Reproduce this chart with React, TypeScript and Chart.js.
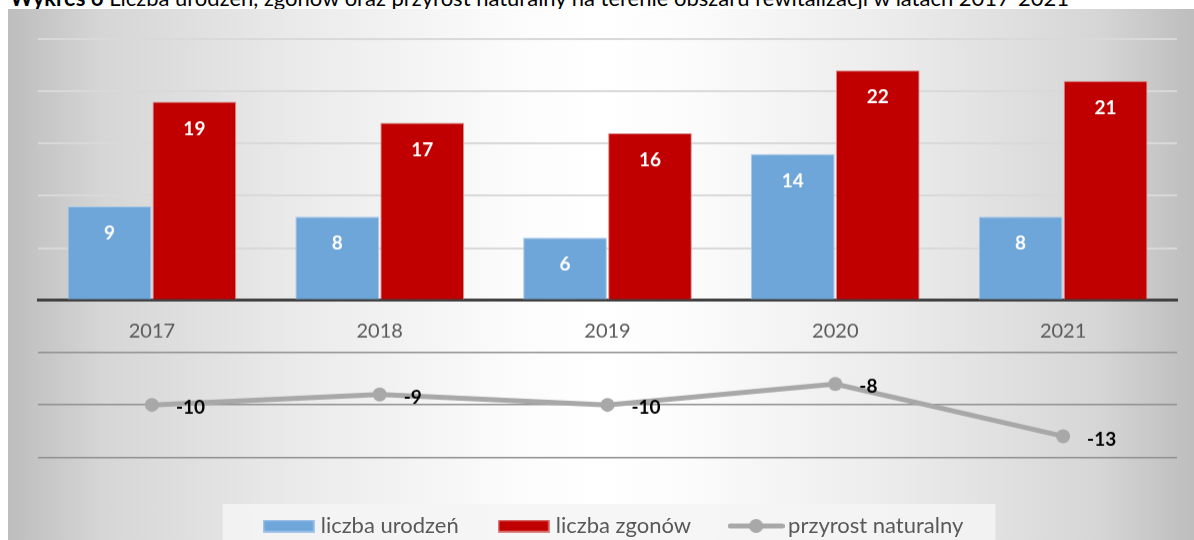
import React, { useEffect, useRef } from 'react';
import { Chart, registerables } from 'chart.js';

Chart.register(...registerables);

const years = ['2017', '2018', '2019', '2020', '2021'];
const births = [9, 8, 6, 14, 8];
const deaths = [19, 17, 16, 22, 21];
const naturalGrowth = [-10, -9, -10, -8, -13];
const seriesNames = ['liczba urodzeń', 'liczba zgonów', 'przyrost naturalny'];
const yMin = -15;
const yMax = 25;
const yStep = 5;
const titleBold = 'Wykres 6';
const titleText = ' Liczba urodzeń, zgonów oraz przyrost naturalny na terenie obszaru rewitalizacji w latach 2017-2021';

const BLUE = '#6fa6d9';
const BLUE_BORDER = '#a7c8ea';
const RED = '#c00000';
const RED_BORDER = '#de8a8a';
const GREY = '#a8a8a8';
const FONT = 'Lato, "Open Sans", sans-serif';

function makeIcon(kind: number): HTMLCanvasElement {
  const c = document.createElement('canvas');
  if (kind < 2) {
    c.width = 52;
    c.height = 13;
    const x = c.getContext('2d')!;
    x.fillStyle = kind === 0 ? BLUE : RED;
    x.fillRect(0, 0, 52, 13);
    x.strokeStyle = kind === 0 ? BLUE_BORDER : RED_BORDER;
    x.lineWidth = 1.5;
    x.strokeRect(0.75, 0.75, 50.5, 11.5);
  } else {
    c.width = 57;
    c.height = 16;
    const x = c.getContext('2d')!;
    x.strokeStyle = GREY;
    x.lineWidth = 5;
    x.lineCap = 'round';
    x.beginPath();
    x.moveTo(2.5, 8);
    x.lineTo(54.5, 8);
    x.stroke();
    x.fillStyle = GREY;
    x.beginPath();
    x.arc(28.5, 8, 7, 0, Math.PI * 2);
    x.fill();
  }
  return c;
}

const valueLabels = {
  id: 'valueLabels',
  afterDatasetsDraw(chart: any) {
    const ctx = chart.ctx;
    chart.data.datasets.forEach((ds: any, i: number) => {
      const meta = chart.getDatasetMeta(i);
      meta.data.forEach((el: any, j: number) => {
        const v = ds.data[j];
        ctx.save();
        ctx.font = `bold 19px ${FONT}`;
        ctx.textBaseline = 'middle';
        if (ds.type === 'line') {
          ctx.fillStyle = '#000000';
          ctx.textAlign = 'left';
          ctx.fillText(String(v), el.x + 24, el.y + 3);
        } else {
          ctx.fillStyle = '#ffffff';
          ctx.textAlign = 'center';
          ctx.fillText(String(v), el.x, el.y + 27);
        }
        ctx.restore();
      });
    });
  },
};

const legendBox = {
  id: 'legendBox',
  beforeDraw(chart: any) {
    const lg = chart.legend;
    if (!lg || !lg.legendHitBoxes || !lg.legendHitBoxes.length) return;
    const hb = lg.legendHitBoxes;
    const left = Math.min(...hb.map((h: any) => h.left));
    const right = Math.max(...hb.map((h: any) => h.left + h.width));
    const top = Math.min(...hb.map((h: any) => h.top));
    const ctx = chart.ctx;
    ctx.save();
    ctx.fillStyle = 'rgba(244,244,244,0.85)';
    ctx.fillRect(left - 45, top - 11, right - left + 77, chart.height);
    ctx.restore();
  },
};

export default function App() {
  const ref = useRef<HTMLCanvasElement>(null);

  useEffect(() => {
    if (!ref.current) return;
    const icons = [makeIcon(0), makeIcon(1), makeIcon(2)];
    const chart = new Chart(ref.current, {
      type: 'bar',
      data: {
        labels: years,
        datasets: [
          {
            type: 'bar',
            label: seriesNames[0],
            data: births,
            backgroundColor: BLUE,
            borderColor: BLUE_BORDER,
            borderWidth: 1,
            categoryPercentage: 0.746,
            barPercentage: 0.985,
          },
          {
            type: 'bar',
            label: seriesNames[1],
            data: deaths,
            backgroundColor: RED,
            borderColor: RED_BORDER,
            borderWidth: 1,
            categoryPercentage: 0.746,
            barPercentage: 0.985,
          },
          {
            type: 'line',
            label: seriesNames[2],
            data: naturalGrowth,
            borderColor: GREY,
            backgroundColor: GREY,
            borderWidth: 5,
            pointRadius: 7,
            pointBackgroundColor: GREY,
            pointBorderWidth: 0,
            tension: 0,
          } as any,
        ],
      },
      options: {
        animation: false,
        responsive: false,
        layout: { padding: { left: 30, right: 5, top: 30, bottom: 0 } },
        plugins: {
          tooltip: { enabled: false },
          legend: {
            position: 'bottom',
            title: { display: true, text: ' ', font: { size: 1 }, padding: { top: 12.5, bottom: 0 } },
            labels: {
              usePointStyle: true,
              pointStyleWidth: 42,
              boxHeight: 13,
              padding: 44,
              color: '#595959',
              font: { size: 22, family: FONT },
              generateLabels: () =>
                seriesNames.map((text, i) => ({
                  text,
                  pointStyle: icons[i],
                  fillStyle: 'transparent',
                  strokeStyle: 'transparent',
                  lineWidth: 0,
                  hidden: false,
                  datasetIndex: i,
                  fontColor: '#595959',
                })) as any,
            },
          },
        },
        scales: {
          x: {
            position: { y: 0 } as any,
            offset: true,
            z: 1,
            grid: { display: false, drawTicks: false },
            border: { display: true, color: '#404040', width: 3 },
            ticks: { color: '#595959', font: { size: 20, family: FONT }, padding: 19 },
          },
          y: {
            min: yMin,
            max: yMax,
            ticks: { display: false, stepSize: yStep },
            border: { display: false },
            grid: {
              drawTicks: false,
              color: (c: any) =>
                c.tick.value < 0 ? '#8f8f8f' : c.tick.value === 0 ? 'rgba(0,0,0,0)' : '#d9d9d9',
              lineWidth: (c: any) => (c.tick.value < 0 ? 1.5 : 2),
            },
          },
          y2: {
            position: 'right',
            min: yMin,
            max: yMax,
            ticks: { display: false },
            border: { display: false },
            grid: { display: false, drawTicks: false },
            afterFit: (s: any) => {
              s.width = 16;
            },
          },
        },
      },
      plugins: [valueLabels, legendBox],
    });
    return () => chart.destroy();
  }, []);

  return (
    <div
      style={{
        position: 'fixed',
        left: 0,
        top: 0,
        width: 1194,
        height: 540,
        overflow: 'hidden',
        background: '#ffffff',
      }}
    >
      <div
        style={{
          position: 'absolute',
          left: 10,
          top: -13,
          whiteSpace: 'nowrap',
          fontFamily: FONT,
          fontSize: 22,
          lineHeight: '22px',
          color: '#000000',
        }}
      >
        <b>{titleBold}</b>
        {titleText}
      </div>
      <div
        style={{
          position: 'absolute',
          left: 8,
          top: 9,
          width: 1186,
          height: 531,
          background:
            'linear-gradient(to right, #bdbdbd 0%, #d6d6d6 8%, #ebebeb 25%, #fbfbfb 42%, #ffffff 50%, #fbfbfb 58%, #ebebeb 75%, #d6d6d6 92%, #bdbdbd 100%)',
        }}
      >
        <canvas ref={ref} width={1190} height={537.5} style={{ display: 'block', width: 1190, height: 537.5 }} />
      </div>
    </div>
  );
}
